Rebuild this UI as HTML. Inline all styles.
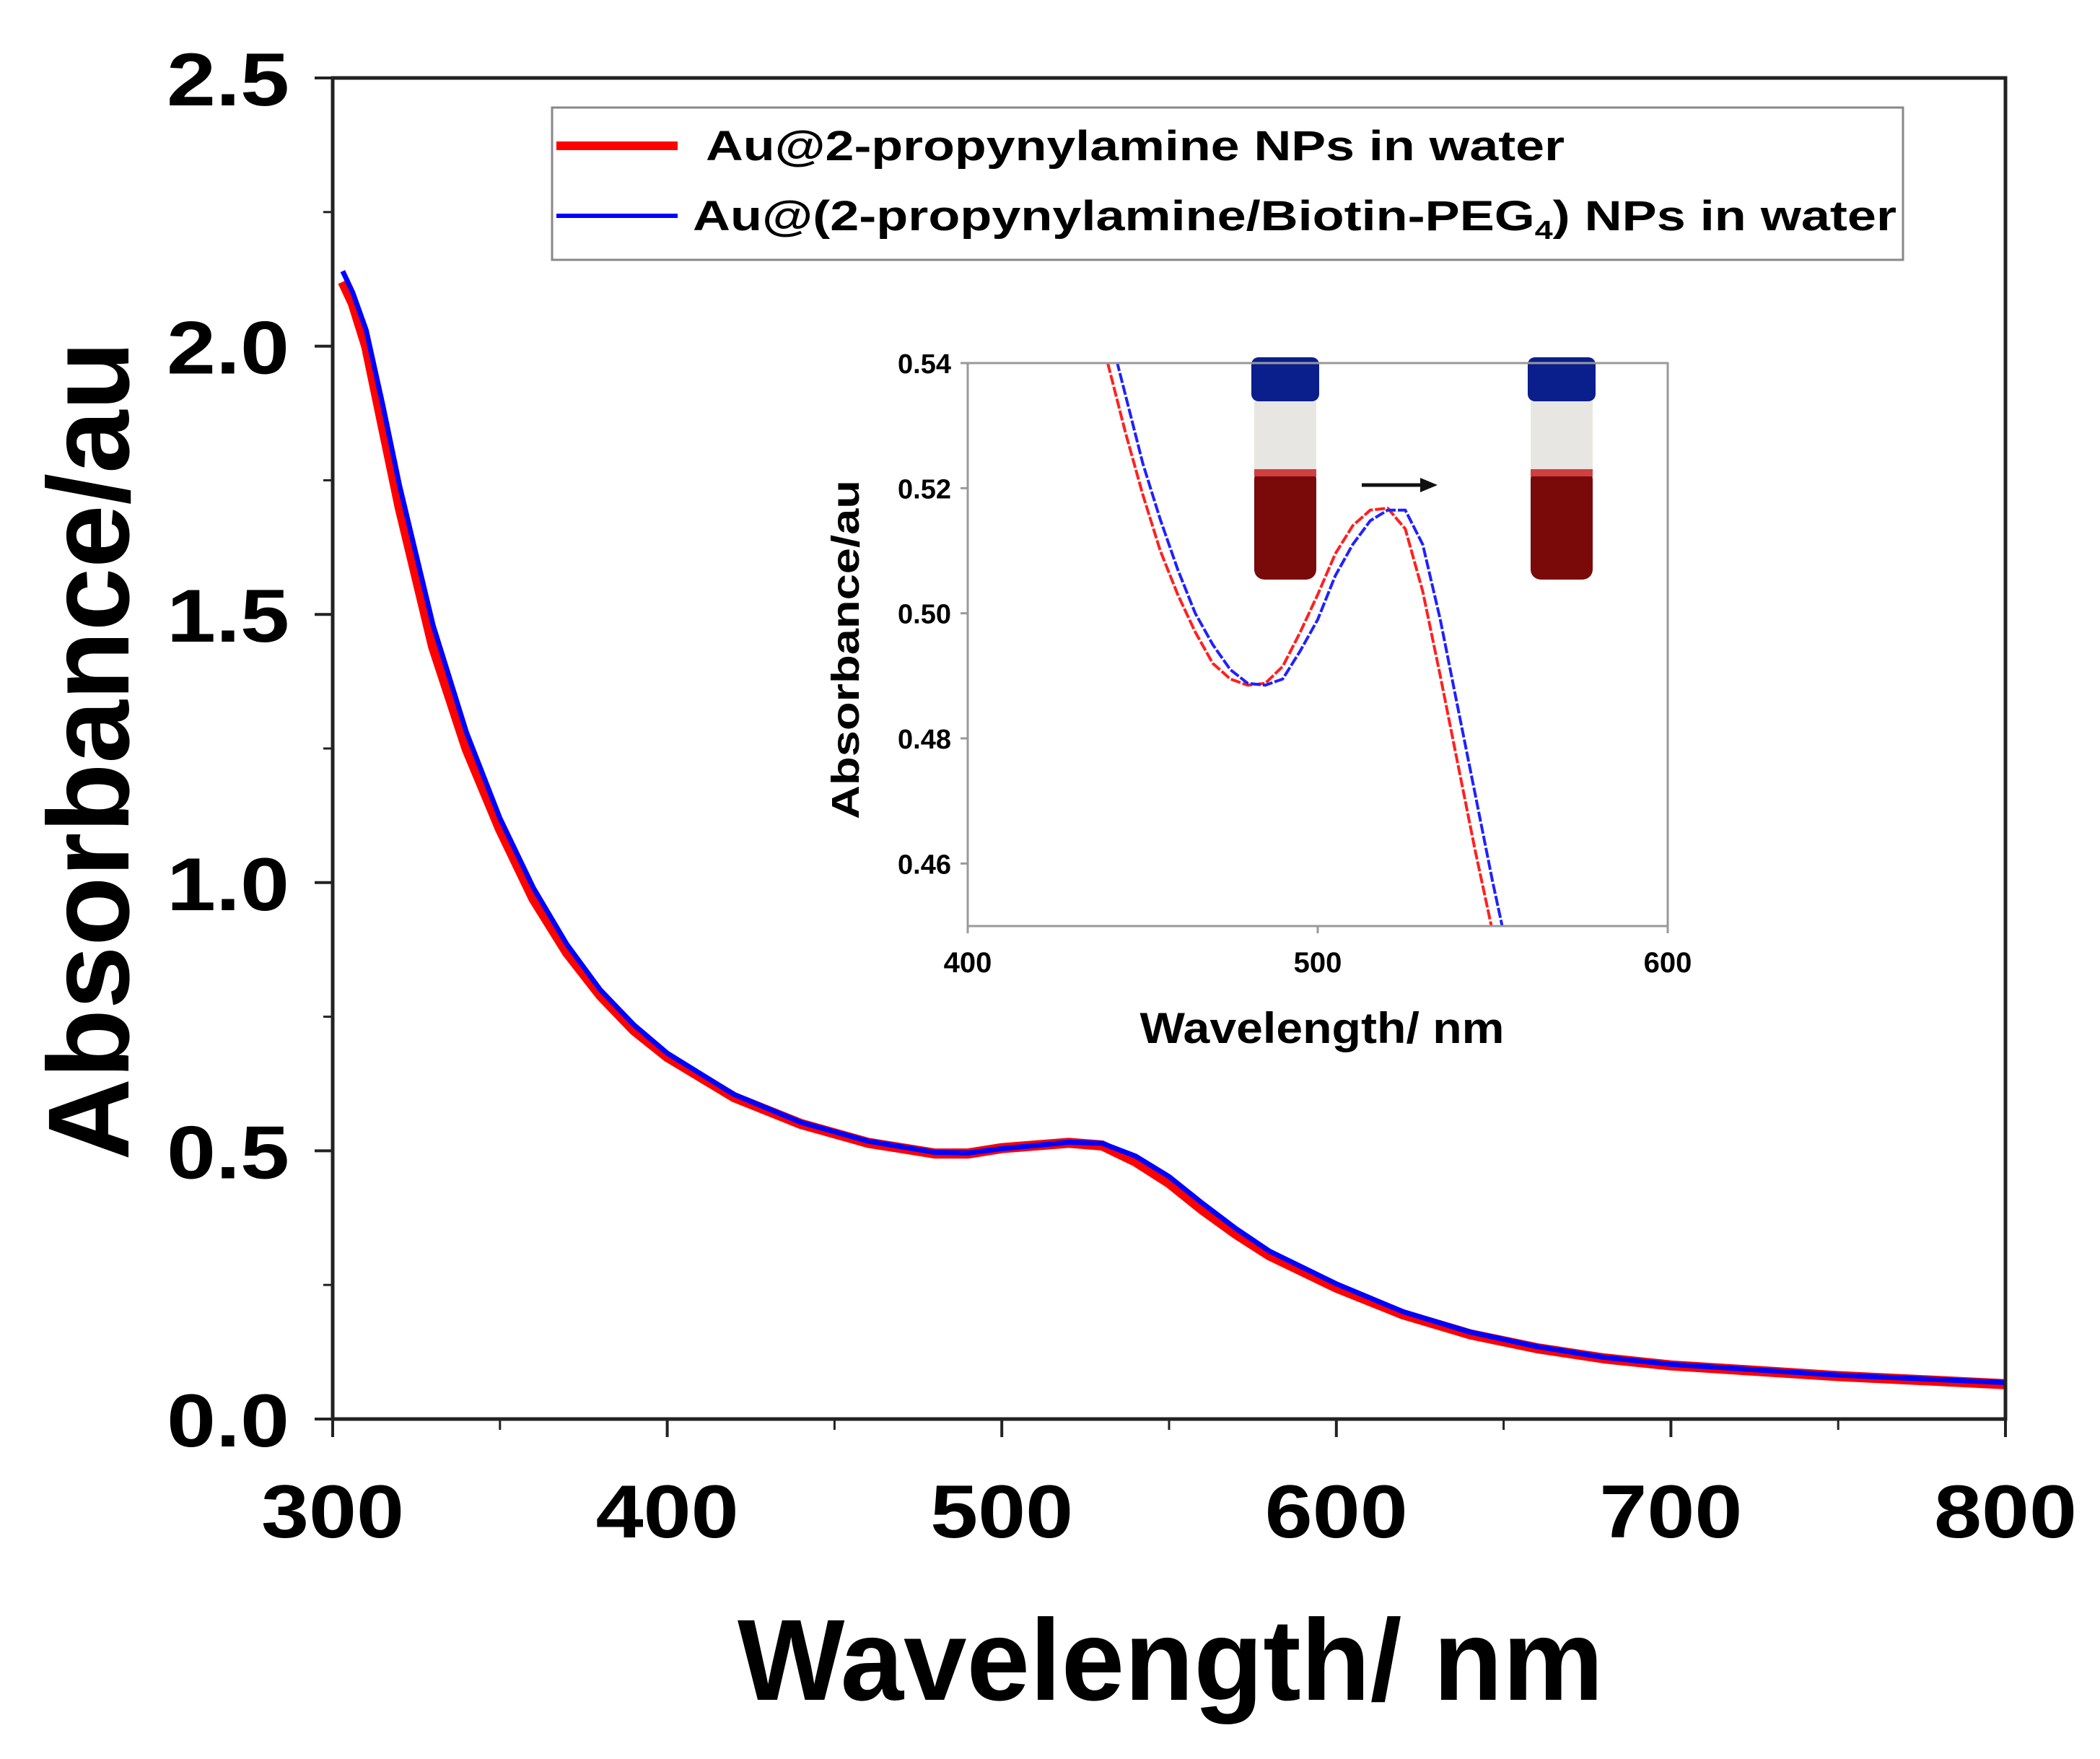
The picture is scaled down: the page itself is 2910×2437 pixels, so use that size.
<!DOCTYPE html>
<html><head><meta charset="utf-8"><style>
html,body{margin:0;padding:0;background:#fff}
svg{display:block}
text{font-family:"Liberation Sans",Arial,sans-serif;font-weight:bold;fill:#000}
</style></head><body>
<svg id="chart" width="2910" height="2437" viewBox="0 0 2910 2437" xmlns="http://www.w3.org/2000/svg">
<g id="main"></g>
<g id="inset"></g>
</svg>
<script>
const mainX = [303,306,310,315,320,330,340,350,360,370,380,390,400,420,440,460,480,490,500,510,520,530,540,550,560,570,580,600,620,640,660,680,700,750,800];
const mainRed = [2.12,2.08,2.0,1.85,1.7,1.44,1.25,1.1,0.97,0.87,0.79,0.725,0.675,0.6,0.55,0.515,0.495,0.495,0.505,0.51,0.515,0.51,0.48,0.44,0.39,0.345,0.305,0.245,0.195,0.158,0.132,0.113,0.1,0.08,0.065];
const mainBlue = [2.14,2.1,2.03,1.89,1.74,1.48,1.28,1.12,0.99,0.885,0.8,0.735,0.682,0.605,0.553,0.518,0.497,0.496,0.504,0.51,0.516,0.514,0.49,0.452,0.402,0.355,0.313,0.252,0.2,0.162,0.135,0.115,0.102,0.082,0.068];
const insetX = [440,445,450,455,460,465,470,475,480,485,490,495,500,505,510,515,520,525,530,535,540,545,550,555];
const insetRed = [0.54,0.529,0.519,0.51,0.503,0.497,0.492,0.4895,0.4885,0.4888,0.4915,0.497,0.503,0.5095,0.514,0.5165,0.5168,0.5135,0.5035,0.49,0.476,0.462,0.449,0.437];
const insetBlue = [0.546,0.535,0.524,0.515,0.507,0.5,0.495,0.491,0.4888,0.4885,0.4895,0.494,0.499,0.506,0.511,0.5148,0.5165,0.5165,0.511,0.499,0.485,0.471,0.457,0.444];
const mainXTicks = [300,400,500,600,700,800];
const mainYTicks = [0.0,0.5,1.0,1.5,2.0,2.5];
const insetXTicks = [400,500,600];
const insetYTicks = [0.46,0.48,0.50,0.52,0.54];

const NS="http://www.w3.org/2000/svg";
function mk(parent,tag,attrs,text){const e=document.createElementNS(NS,tag);for(const k in attrs)e.setAttribute(k,attrs[k]);if(text!==undefined)e.textContent=text;parent.appendChild(e);return e;}

const mx=v=>461+(v-300)/500*(2779-461);
const my=v=>1966-v/2.5*(1966-108);
const g=document.getElementById('main');
function path(xs,ys,fx,fy){return xs.map((x,i)=>(i?'L':'M')+fx(x).toFixed(1)+' '+fy(ys[i]).toFixed(1)).join(' ');}
const mcp=mk(g,'clipPath',{id:'mcp'});mk(mcp,'rect',{x:461,y:108,width:2318,height:1858});
const mg=mk(g,'g',{'clip-path':'url(#mcp)'});
let p=mk(mg,'path',{d:path(mainX,mainRed,mx,my),fill:'none',stroke:'#ff0000','stroke-width':14,'stroke-linejoin':'round'});

p=mk(mg,'path',{d:path(mainX,mainBlue,mx,my),fill:'none',stroke:'#0000ff','stroke-width':7,'stroke-linejoin':'round'});

let fr=mk(g,'rect',{x:461,y:108,width:2318,height:1858,fill:'none',stroke:'#222','stroke-width':5});

mainXTicks.forEach((t,i)=>{
 mk(g,'line',{x1:mx(t),x2:mx(t),y1:1966,y2:1991,stroke:'#222','stroke-width':4});
 if(i<mainXTicks.length-1) mk(g,'line',{x1:mx(t+50),x2:mx(t+50),y1:1966,y2:1981,stroke:'#222','stroke-width':3});
 const l=mk(g,'text',{x:mx(t),y:2130,'font-size':104,'text-anchor':'middle',textLength:198,lengthAdjust:'spacingAndGlyphs'},String(t));
 
});
mainYTicks.forEach((t,i)=>{
 mk(g,'line',{x1:436,x2:461,y1:my(t),y2:my(t),stroke:'#222','stroke-width':4});
 if(i<mainYTicks.length-1) mk(g,'line',{x1:448,x2:461,y1:my(t+0.25),y2:my(t+0.25),stroke:'#222','stroke-width':3});
 const l=mk(g,'text',{x:401,y:my(t)+38,'font-size':104,'text-anchor':'end',textLength:170,lengthAdjust:'spacingAndGlyphs'},t.toFixed(1));
 
});
let t=mk(g,'text',{x:1622,y:2355,'font-size':160,'text-anchor':'middle',textLength:1200,lengthAdjust:'spacingAndGlyphs'},'Wavelength/ nm');

t=mk(g,'text',{x:0,y:0,'font-size':160,'text-anchor':'middle',textLength:1135,lengthAdjust:'spacingAndGlyphs',transform:'translate(178,1040) rotate(-90)'},'Absorbance/au');


const lg=mk(g,'g',{});

mk(lg,'rect',{x:765,y:149,width:1872,height:211,fill:'#fff',stroke:'#888','stroke-width':3});
mk(lg,'line',{x1:771,x2:939,y1:202,y2:202,stroke:'#ff0000','stroke-width':12});
mk(lg,'line',{x1:771,x2:939,y1:299,y2:299,stroke:'#0000ff','stroke-width':6});
t=mk(lg,'text',{x:978,y:222,'font-size':58,textLength:1190,lengthAdjust:'spacingAndGlyphs'},'Au@2-propynylamine NPs in water');

t=mk(lg,'text',{x:960,y:319,'font-size':58},'');

t.setAttribute('textLength','1668');t.setAttribute('lengthAdjust','spacingAndGlyphs');
t.innerHTML='Au@(2-propynylamine/Biotin-PEG<tspan font-size="36" dy="12">4</tspan><tspan dy="-12">) NPs in water</tspan>';

const ix=v=>1341+(v-400)/200*(2311-1341);
const iy=v=>503+(0.54-v)/0.09*(1283-503);
const ig=document.getElementById('inset');
const cp=mk(ig,'clipPath',{id:'icp'});mk(cp,'rect',{x:1341,y:503,width:970,height:780});
function vial(x0,name){const v=mk(ig,'g',{});
 mk(v,'rect',{x:x0+4,y:556,width:86,height:100,fill:'#e8e6e2'});
 mk(v,'rect',{x:x0+4,y:650,width:86,height:153,rx:14,fill:'#7a0a0a'});
 mk(v,'rect',{x:x0+4,y:650,width:86,height:10,fill:'#d04040'});
 mk(v,'rect',{x:x0,y:495,width:94,height:61,rx:10,fill:'#0a1e8c'});}
vial(1734,'vial-before');vial(2117,'vial-after');
const ar=mk(ig,'g',{});
mk(ar,'line',{x1:1887,x2:1973,y1:672,y2:672,stroke:'#111','stroke-width':5});
mk(ar,'polygon',{points:'1992,672 1968,662 1968,682',fill:'#111'});
const ig2=mk(ig,'g',{'clip-path':'url(#icp)'});
p=mk(ig2,'path',{d:path(insetX,insetRed,ix,iy),fill:'none',stroke:'#ff2020','stroke-width':4,'stroke-dasharray':'14 3'});

p=mk(ig2,'path',{d:path(insetX,insetBlue,ix,iy),fill:'none',stroke:'#2020ff','stroke-width':4,'stroke-dasharray':'14 3'});

fr=mk(ig,'rect',{x:1341,y:503,width:970,height:780,fill:'none',stroke:'#999','stroke-width':3});

insetXTicks.forEach(v=>{mk(ig,'line',{x1:ix(v),x2:ix(v),y1:1283,y2:1293,stroke:'#999','stroke-width':3});
 const l=mk(ig,'text',{x:ix(v),y:1347,'font-size':40,'text-anchor':'middle'},String(v));
 });
insetYTicks.forEach(v=>{mk(ig,'line',{x1:1331,x2:1341,y1:iy(v),y2:iy(v),stroke:'#999','stroke-width':3});
 const l=mk(ig,'text',{x:1318,y:iy(v)+14,'font-size':38,'text-anchor':'end'},v.toFixed(2));
 });
t=mk(ig,'text',{x:1832,y:1445,'font-size':60,'text-anchor':'middle',textLength:505,lengthAdjust:'spacingAndGlyphs'},'Wavelength/ nm');

t=mk(ig,'text',{x:0,y:0,'font-size':54,'text-anchor':'middle',textLength:470,lengthAdjust:'spacingAndGlyphs',transform:'translate(1190,900) rotate(-90)'},'Absorbance/au');

</script>
</body></html>
